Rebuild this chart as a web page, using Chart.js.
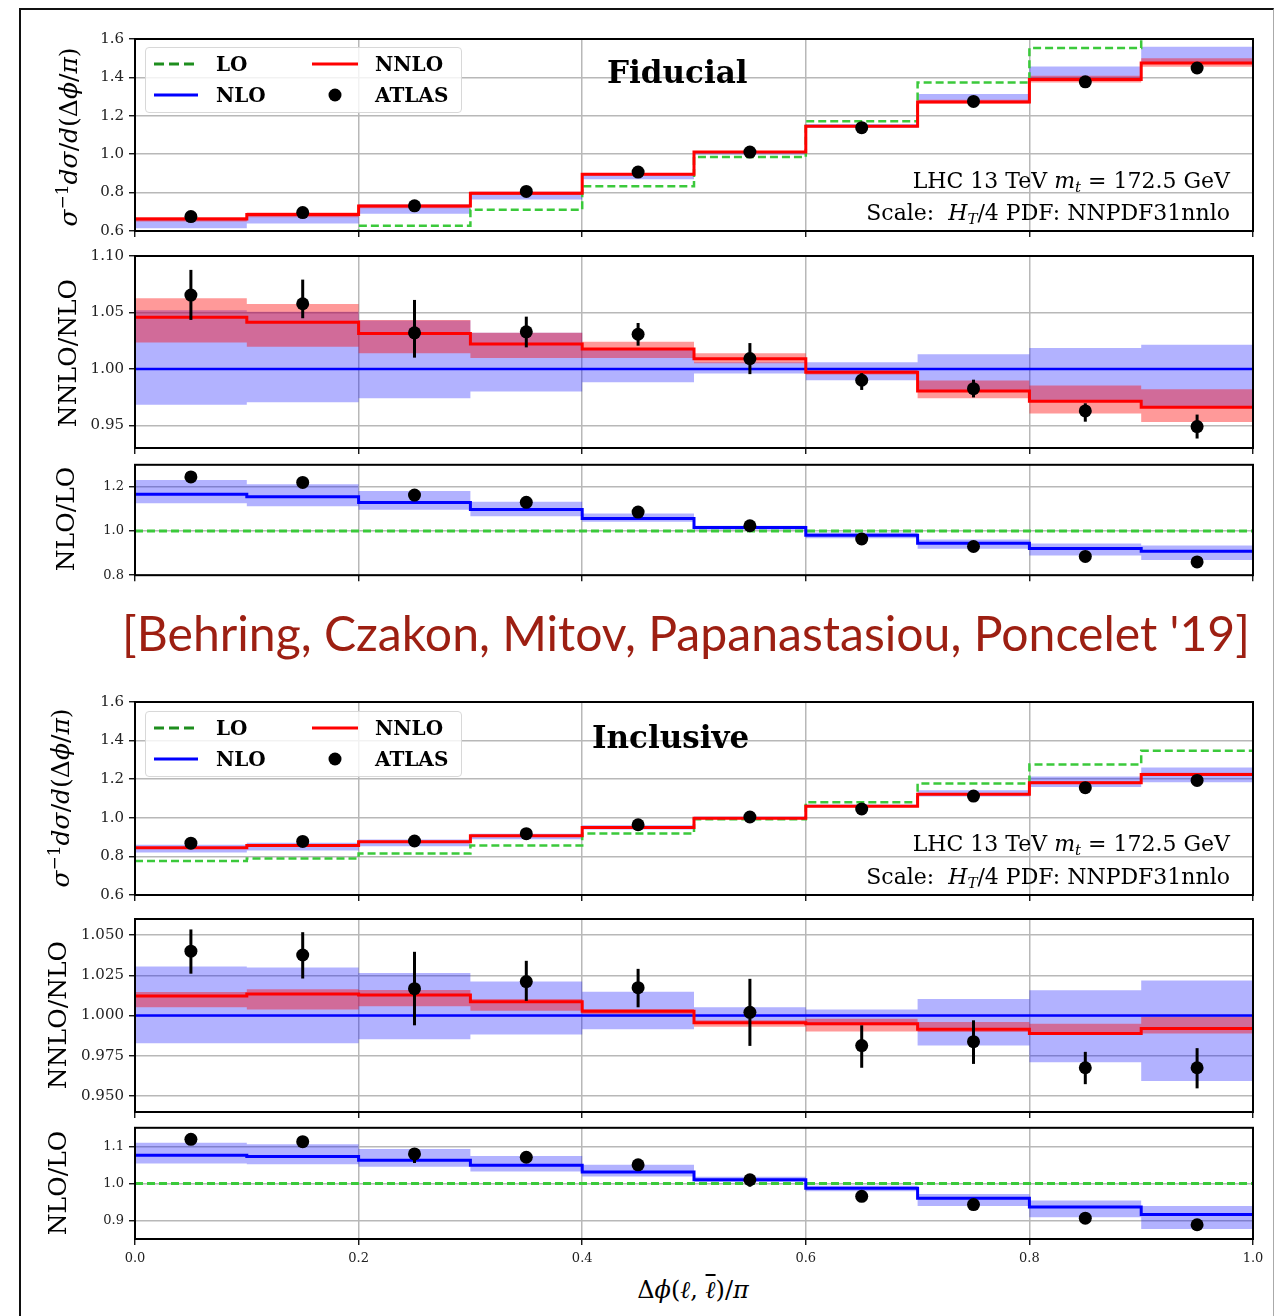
<!DOCTYPE html>
<html>
<head>
<meta charset="utf-8">
<script src="https://cdn.jsdelivr.net/npm/chart.js@4.4.1/dist/chart.umd.min.js"></script>
<style>
html,body{margin:0;padding:0;background:#fff;}
#root{position:relative;width:1277px;height:1316px;overflow:hidden;background:#fff;font-family:"DejaVu Serif",serif;color:#000;}
#root canvas{position:absolute;left:0;}
.t{position:absolute;white-space:nowrap;line-height:1;transform:translateY(-50%);}
.yt{position:absolute;white-space:nowrap;line-height:1;transform:translate(-50%,-50%) rotate(-90deg);font-size:24px;}
sup{font-size:0.68em;vertical-align:0.5em;line-height:0;}
sub{font-size:0.68em;vertical-align:-0.3em;line-height:0;}
.ov{text-decoration:overline;text-decoration-thickness:1.5px;}
.leg{position:absolute;width:317px;height:66px;background:rgba(255,255,255,0.82);border:1px solid #d8d8d8;border-radius:4px;box-sizing:border-box;}
.lt{position:absolute;font-weight:bold;font-size:20px;line-height:1;transform:translateY(-50%);white-space:nowrap;}
#frame{position:absolute;left:19px;top:8px;width:1255px;height:1400px;border-left:2px solid #111;border-top:2px solid #111;border-right:1px solid #aaa;box-sizing:border-box;}
#ttl{position:absolute;left:122px;top:632px;font-family:Lato,"Open Sans",sans-serif;font-size:49px;color:#9d1f12;white-space:nowrap;line-height:1;transform-origin:left center;}
</style>
</head>
<body>
<div id="root">
<div id="frame"></div>
</div>
<script>
// ---------------- data ----------------
const binEdges   = [0.0, 0.1, 0.2, 0.3, 0.4, 0.5, 0.6, 0.7, 0.8, 0.9, 1.0];
const binCenters = [0.05, 0.15, 0.25, 0.35, 0.45, 0.55, 0.65, 0.75, 0.85, 0.95];
const xTickLabels      = ['0.0', '0.2', '0.4', '0.6', '0.8', '1.0'];
const yTicksMain       = ['0.6', '0.8', '1.0', '1.2', '1.4', '1.6'];
const yTicksFidRatio   = ['0.95', '1.00', '1.05', '1.10'];
const yTicksFidK       = ['0.8', '1.0', '1.2'];
const yTicksIncRatio   = ['0.950', '0.975', '1.000', '1.025', '1.050'];
const yTicksIncK       = ['0.9', '1.0', '1.1'];
const unity = [1, 1, 1, 1, 1, 1, 1, 1, 1, 1];

// Fiducial: normalised distribution
const fidLO       = [0.543, 0.570, 0.627, 0.711, 0.833, 0.986, 1.172, 1.373, 1.553, 1.680];
const fidNNLO     = [0.663, 0.686, 0.730, 0.797, 0.896, 1.011, 1.146, 1.272, 1.389, 1.475];
const fidNLOlow   = [0.614, 0.639, 0.690, 0.764, 0.870, 0.998, 1.138, 1.272, 1.389, 1.475];
const fidNLOhigh  = [0.667, 0.692, 0.738, 0.805, 0.895, 1.008, 1.157, 1.314, 1.457, 1.560];
const fidNNLOlow  = [0.649, 0.671, 0.718, 0.788, 0.889, 1.007, 1.144, 1.264, 1.374, 1.455];
const fidNNLOhigh = [0.673, 0.696, 0.738, 0.805, 0.901, 1.016, 1.149, 1.284, 1.409, 1.500];
const fidATLAS    = [0.675, 0.696, 0.731, 0.806, 0.907, 1.011, 1.138, 1.275, 1.377, 1.449];
// Fiducial: NNLO/NLO
const fidRatioNNLO     = [1.0457, 1.0414, 1.0314, 1.0220, 1.0177, 1.0090, 0.9970, 0.9805, 0.9713, 0.9660];
const fidRatioNLOlow   = [0.9683, 0.9706, 0.9740, 0.9800, 0.9883, 0.9960, 0.9900, 0.9800, 0.9713, 0.9660];
const fidRatioNLOhigh  = [1.0520, 1.0506, 1.0430, 1.0320, 1.0171, 1.0060, 1.0060, 1.0129, 1.0186, 1.0215];
const fidRatioNNLOlow  = [1.0234, 1.0197, 1.0140, 1.0097, 1.0097, 1.0050, 0.9950, 0.9740, 0.9605, 0.9530];
const fidRatioNNLOhigh = [1.0626, 1.0574, 1.0434, 1.0320, 1.0240, 1.0140, 0.9990, 0.9897, 0.9854, 0.9820];
const fidRatioATLAS    = [1.0654, 1.0577, 1.0320, 1.0329, 1.0307, 1.0092, 0.9900, 0.9825, 0.9628, 0.9490];
const fidRatioErrLow   = [1.0434, 1.0449, 1.0100, 1.0191, 1.0206, 0.9954, 0.9814, 0.9748, 0.9533, 0.9384];
const fidRatioErrHigh  = [1.0877, 1.0791, 1.0611, 1.0463, 1.0407, 1.0229, 0.9963, 0.9905, 0.9696, 0.9596];
// Fiducial: NLO/LO
const fidKNLO   = [1.167, 1.155, 1.129, 1.097, 1.0565, 1.016, 0.981, 0.945, 0.921, 0.909];
const fidKlow   = [1.126, 1.112, 1.096, 1.067, 1.042, 1.006, 0.967, 0.920, 0.889, 0.869];
const fidKhigh  = [1.231, 1.212, 1.181, 1.133, 1.079, 1.024, 0.993, 0.962, 0.944, 0.935];
const fidKATLAS = [1.245, 1.220, 1.163, 1.130, 1.086, 1.024, 0.964, 0.930, 0.885, 0.860];

// Inclusive: normalised distribution
const incLO       = [0.776, 0.789, 0.8145, 0.857, 0.919, 0.992, 1.080, 1.178, 1.276, 1.347];
const incNNLO     = [0.845, 0.857, 0.8765, 0.9066, 0.950, 0.9975, 1.060, 1.1214, 1.1816, 1.224];
const incNLOlow   = [0.8206, 0.8312, 0.8526, 0.8884, 0.9394, 0.997, 1.0591, 1.1099, 1.1602, 1.1838];
const incNLOhigh  = [0.8605, 0.8711, 0.8882, 0.918, 0.9615, 1.007, 1.0694, 1.1425, 1.2138, 1.2609];
const incNNLOlow  = [0.8393, 0.8489, 0.8703, 0.9017, 0.9484, 0.995, 1.0548, 1.1195, 1.1804, 1.2202];
const incNNLOhigh = [0.8472, 0.8596, 0.8792, 0.9082, 0.9513, 0.999, 1.0634, 1.1264, 1.1889, 1.2328];
const incATLAS    = [0.8684, 0.8776, 0.8799, 0.918, 0.9639, 1.004, 1.0456, 1.1126, 1.1562, 1.1939];
// Inclusive: NNLO/NLO
const incRatioNNLO     = [1.0122, 1.0134, 1.0128, 1.0085, 1.0026, 0.9955, 0.9949, 0.9915, 0.9888, 0.9919];
const incRatioNLOlow   = [0.9827, 0.9827, 0.9852, 0.9882, 0.9915, 0.9950, 0.9940, 0.9813, 0.9709, 0.9593];
const incRatioNLOhigh  = [1.0305, 1.0299, 1.0264, 1.0211, 1.0148, 1.0051, 1.0037, 1.0102, 1.0157, 1.0218];
const incRatioNNLOlow  = [1.0051, 1.0037, 1.0057, 1.0030, 1.0010, 0.9930, 0.9900, 0.9898, 0.9878, 0.9888];
const incRatioNNLOhigh = [1.0146, 1.0163, 1.0159, 1.0102, 1.0040, 0.9970, 0.9980, 0.9959, 0.9949, 0.9990];
const incRatioATLAS    = [1.0400, 1.0376, 1.0167, 1.0211, 1.0173, 1.0020, 0.9813, 0.9837, 0.9675, 0.9675];
const incRatioErrLow   = [1.0260, 1.0230, 0.9939, 1.0091, 1.0051, 0.9811, 0.9675, 0.9699, 0.9573, 0.9547];
const incRatioErrHigh  = [1.0535, 1.0518, 1.0396, 1.0340, 1.0290, 1.0228, 0.9939, 0.9970, 0.9774, 0.9797];
// Inclusive: NLO/LO
const incKNLO    = [1.0759, 1.0723, 1.0625, 1.049, 1.031, 1.0098, 0.9866, 0.9598, 0.9366, 0.916];
const incKlow    = [1.0536, 1.0518, 1.0446, 1.0321, 1.0188, 1.0036, 0.9786, 0.9393, 0.909, 0.877];
const incKhigh   = [1.1098, 1.1054, 1.093, 1.0741, 1.050, 1.0179, 0.9938, 0.9714, 0.9536, 0.939];
const incKATLAS  = [1.1188, 1.1125, 1.0795, 1.0705, 1.050, 1.0098, 0.9652, 0.9429, 0.9063, 0.8884];
const incKErrLow  = [1.104, 1.098, 1.055, 1.058, 1.038, 0.991, 0.952, 0.930, 0.896, 0.876];
const incKErrHigh = [1.133, 1.127, 1.093, 1.083, 1.062, 1.023, 0.978, 0.956, 0.916, 0.901];

// ---------------- styling ----------------
const COL = {
  blueBand: 'rgba(0,0,255,0.30)',
  redBand:  'rgba(255,0,0,0.40)',
  blue: '#0000ff', red: '#ff0000', green: '#3bc93b', black: '#000000'
};
const GRID = '#b8b8b8';
const PLOT_LEFT = 135, PLOT_RIGHT = 1253, W = 1277;

function steps(v) {
  const d = v.map((y, i) => ({x: binEdges[i], y}));
  d.push({x: binEdges[v.length], y: v[v.length - 1]});
  return d;
}
function pts(v) { return v.map((y, i) => ({x: binCenters[i], y})); }
function band(lo, hi, color, order) {
  return [
    {data: steps(lo), stepped: true, borderColor: 'rgba(0,0,0,0)', borderWidth: 0, pointRadius: 0, fill: false, order},
    {data: steps(hi), stepped: true, borderColor: 'rgba(0,0,0,0)', borderWidth: 0, pointRadius: 0, fill: '-1', backgroundColor: color, order}
  ];
}
function stepLine(v, color, width, dash, order) {
  return {data: steps(v), stepped: true, borderColor: color, borderWidth: width, borderDash: dash || [],
          borderCapStyle: 'butt', borderJoinStyle: 'miter', pointRadius: 0, fill: false, order};
}
function dots(v, order) {
  return {data: pts(v), showLine: false, pointRadius: 6.5, pointBackgroundColor: '#000',
          pointBorderColor: '#000', pointBorderWidth: 0, order};
}
function errBars(lo, hi, order) {
  return binCenters.map((x, i) => ({data: [{x, y: lo[i]}, {x, y: hi[i]}], borderColor: '#000',
          borderWidth: 3, pointRadius: 0, fill: false, order}));
}

const framePlugin = {
  id: 'frame',
  afterDraw(chart) {
    const {ctx, chartArea: a} = chart;
    ctx.save();
    ctx.strokeStyle = '#000';
    ctx.lineWidth = 2;
    ctx.strokeRect(a.left, a.top, a.right - a.left, a.bottom - a.top);
    ctx.restore();
  }
};

const root = document.getElementById('root');

function makePanel(geom, datasets, yLabels, fs, showX) {
  const padTop = 12, xH = showX ? 34 : 12;
  const h = padTop + (geom.bottom - geom.top) + xH;
  const cv = document.createElement('canvas');
  cv.width = W; cv.height = h;
  cv.style.width = W + 'px'; cv.style.height = h + 'px';
  cv.style.top = (geom.top - padTop) + 'px';
  root.appendChild(cv);
  const yVals = yLabels.map(parseFloat);
  const dec = yLabels[0].split('.')[1].length;
  const gridOpts = {color: GRID, lineWidth: 1.5, tickLength: 6, tickColor: '#000', tickWidth: 1.3, drawTicks: true};
  new Chart(cv, {
    type: 'line',
    data: {datasets},
    options: {
      responsive: false, animation: false, devicePixelRatio: 1, events: [],
      layout: {padding: {top: padTop, left: 0, right: W - PLOT_RIGHT, bottom: 0}},
      plugins: {legend: {display: false}, tooltip: {enabled: false}},
      scales: {
        x: {
          type: 'linear', min: 0, max: 1,
          afterFit: s => { s.height = xH; },
          afterBuildTicks: s => { s.ticks = xTickLabels.map(t => ({value: parseFloat(t)})); },
          ticks: {display: showX, callback: v => Number(v).toFixed(1), font: {family: 'DejaVu Serif', size: 13},
                  color: '#222', padding: 6, maxRotation: 0, autoSkip: false},
          grid: gridOpts, border: {display: false}
        },
        y: {
          type: 'linear', min: geom.ymin, max: geom.ymax,
          afterFit: s => { s.width = PLOT_LEFT; },
          afterBuildTicks: s => { s.ticks = yVals.map(v => ({value: v})); },
          ticks: {callback: v => Number(v).toFixed(dec), font: {family: 'DejaVu Serif', size: fs},
                  color: '#222', padding: 5, autoSkip: false},
          grid: gridOpts, border: {display: false}
        }
      }
    },
    plugins: [framePlugin]
  });
}

// ---------------- panels ----------------
makePanel({top: 37, bottom: 233, ymin: 0.6, ymax: 1.6}, [
  ...band(fidNLOlow, fidNLOhigh, COL.blueBand, 60),
  ...band(fidNNLOlow, fidNNLOhigh, COL.redBand, 50),
  stepLine(fidLO, COL.green, 2.5, [8, 4], 40),
  stepLine(fidNNLO, COL.red, 3, null, 30),
  dots(fidATLAS, 10)
], yTicksMain, 15, false);

makePanel({top: 254, bottom: 450, ymin: 0.93, ymax: 1.10}, [
  ...band(fidRatioNLOlow, fidRatioNLOhigh, COL.blueBand, 60),
  ...band(fidRatioNNLOlow, fidRatioNNLOhigh, COL.redBand, 50),
  stepLine(unity, COL.blue, 2.5, null, 35),
  stepLine(fidRatioNNLO, COL.red, 3, null, 30),
  ...errBars(fidRatioErrLow, fidRatioErrHigh, 15),
  dots(fidRatioATLAS, 10)
], yTicksFidRatio, 15, false);

makePanel({top: 464, bottom: 576, ymin: 0.8, ymax: 1.3}, [
  ...band(fidKlow, fidKhigh, COL.blueBand, 60),
  stepLine(unity, COL.green, 3, [8, 4], 40),
  stepLine(fidKNLO, COL.blue, 3, null, 30),
  dots(fidKATLAS, 10)
], yTicksFidK, 13, false);

makePanel({top: 700, bottom: 897, ymin: 0.6, ymax: 1.6}, [
  ...band(incNLOlow, incNLOhigh, COL.blueBand, 60),
  ...band(incNNLOlow, incNNLOhigh, COL.redBand, 50),
  stepLine(incLO, COL.green, 2.5, [8, 4], 40),
  stepLine(incNNLO, COL.red, 3, null, 30),
  dots(incATLAS, 10)
], yTicksMain, 15, false);

makePanel({top: 917, bottom: 1114, ymin: 0.94, ymax: 1.06}, [
  ...band(incRatioNLOlow, incRatioNLOhigh, COL.blueBand, 60),
  ...band(incRatioNNLOlow, incRatioNNLOhigh, COL.redBand, 50),
  stepLine(unity, COL.blue, 2.5, null, 35),
  stepLine(incRatioNNLO, COL.red, 3, null, 30),
  ...errBars(incRatioErrLow, incRatioErrHigh, 15),
  dots(incRatioATLAS, 10)
], yTicksIncRatio, 15, false);

makePanel({top: 1127, bottom: 1239, ymin: 0.85, ymax: 1.15}, [
  ...band(incKlow, incKhigh, COL.blueBand, 60),
  stepLine(unity, COL.green, 3, [8, 4], 40),
  stepLine(incKNLO, COL.blue, 3, null, 30),
  ...errBars(incKErrLow, incKErrHigh, 15),
  dots(incKATLAS, 10)
], yTicksIncK, 13, true);

// ---------------- text overlays ----------------
function add(html) { root.insertAdjacentHTML('beforeend', html); }
function legend(top) {
  add(`<div class="leg" style="left:145px;top:${top}px;">
    <svg width="317" height="66" style="position:absolute;left:0;top:0;">
      <line x1="8" y1="16" x2="52" y2="16" stroke="#1e8e1e" stroke-width="3" stroke-dasharray="10,5"/>
      <line x1="8" y1="47" x2="52" y2="47" stroke="#0000ff" stroke-width="3"/>
      <line x1="166" y1="16" x2="212" y2="16" stroke="#ff0000" stroke-width="3"/>
      <circle cx="189" cy="47" r="6.5" fill="#000"/>
    </svg>
    <span class="lt" style="left:70px;top:16px;">LO</span>
    <span class="lt" style="left:70px;top:47px;">NLO</span>
    <span class="lt" style="left:229px;top:16px;">NNLO</span>
    <span class="lt" style="left:229px;top:47px;">ATLAS</span>
  </div>`);
}
legend(47);
legend(711);

add(`<div class="t" style="left:607px;top:72px;font-weight:bold;font-size:31px;">Fiducial</div>`);
add(`<div class="t" style="left:592px;top:737px;font-weight:bold;font-size:31px;">Inclusive</div>`);

const lhc = `LHC 13 TeV <i>m</i><sub><i>t</i></sub> = 172.5 GeV`;
const scl = `Scale:&nbsp; <i>H</i><sub><i>T</i></sub>/4 PDF: NNPDF31nnlo`;
add(`<div class="t" style="right:47px;top:181px;font-size:22px;">${lhc}</div>`);
add(`<div class="t" style="right:47px;top:213px;font-size:22px;">${scl}</div>`);
add(`<div class="t" style="right:47px;top:844px;font-size:22px;">${lhc}</div>`);
add(`<div class="t" style="right:47px;top:877px;font-size:22px;">${scl}</div>`);

const ytMain = `<i>σ</i><sup>−1</sup><i>dσ</i>/<i>d</i>(Δ<i>ϕ</i>/<i>π</i>)`;
add(`<div class="yt" style="left:68px;top:137px;font-size:25px;">${ytMain}</div>`);
add(`<div class="yt" style="left:67px;top:353px;font-size:25px;">NNLO/NLO</div>`);
add(`<div class="yt" style="left:65px;top:519px;font-size:25px;">NLO/LO</div>`);
add(`<div class="yt" style="left:60px;top:798px;font-size:25px;">${ytMain}</div>`);
add(`<div class="yt" style="left:57px;top:1015px;font-size:25px;">NNLO/NLO</div>`);
add(`<div class="yt" style="left:57px;top:1183px;font-size:25px;">NLO/LO</div>`);

add(`<div class="t" style="left:693px;top:1290px;font-size:24px;transform:translate(-50%,-50%);">Δ<i>ϕ</i>(<i>ℓ</i>, <i class="ov">ℓ</i>)/<i>π</i></div>`);

add(`<div id="ttl">[Behring, Czakon, Mitov, Papanastasiou, Poncelet '19]</div>`);
const ttl = document.getElementById('ttl');
const tw = ttl.getBoundingClientRect().width;
ttl.style.transform = `translateY(-50%) scaleX(${(1128 / tw).toFixed(4)})`;
</script>
</body>
</html>
